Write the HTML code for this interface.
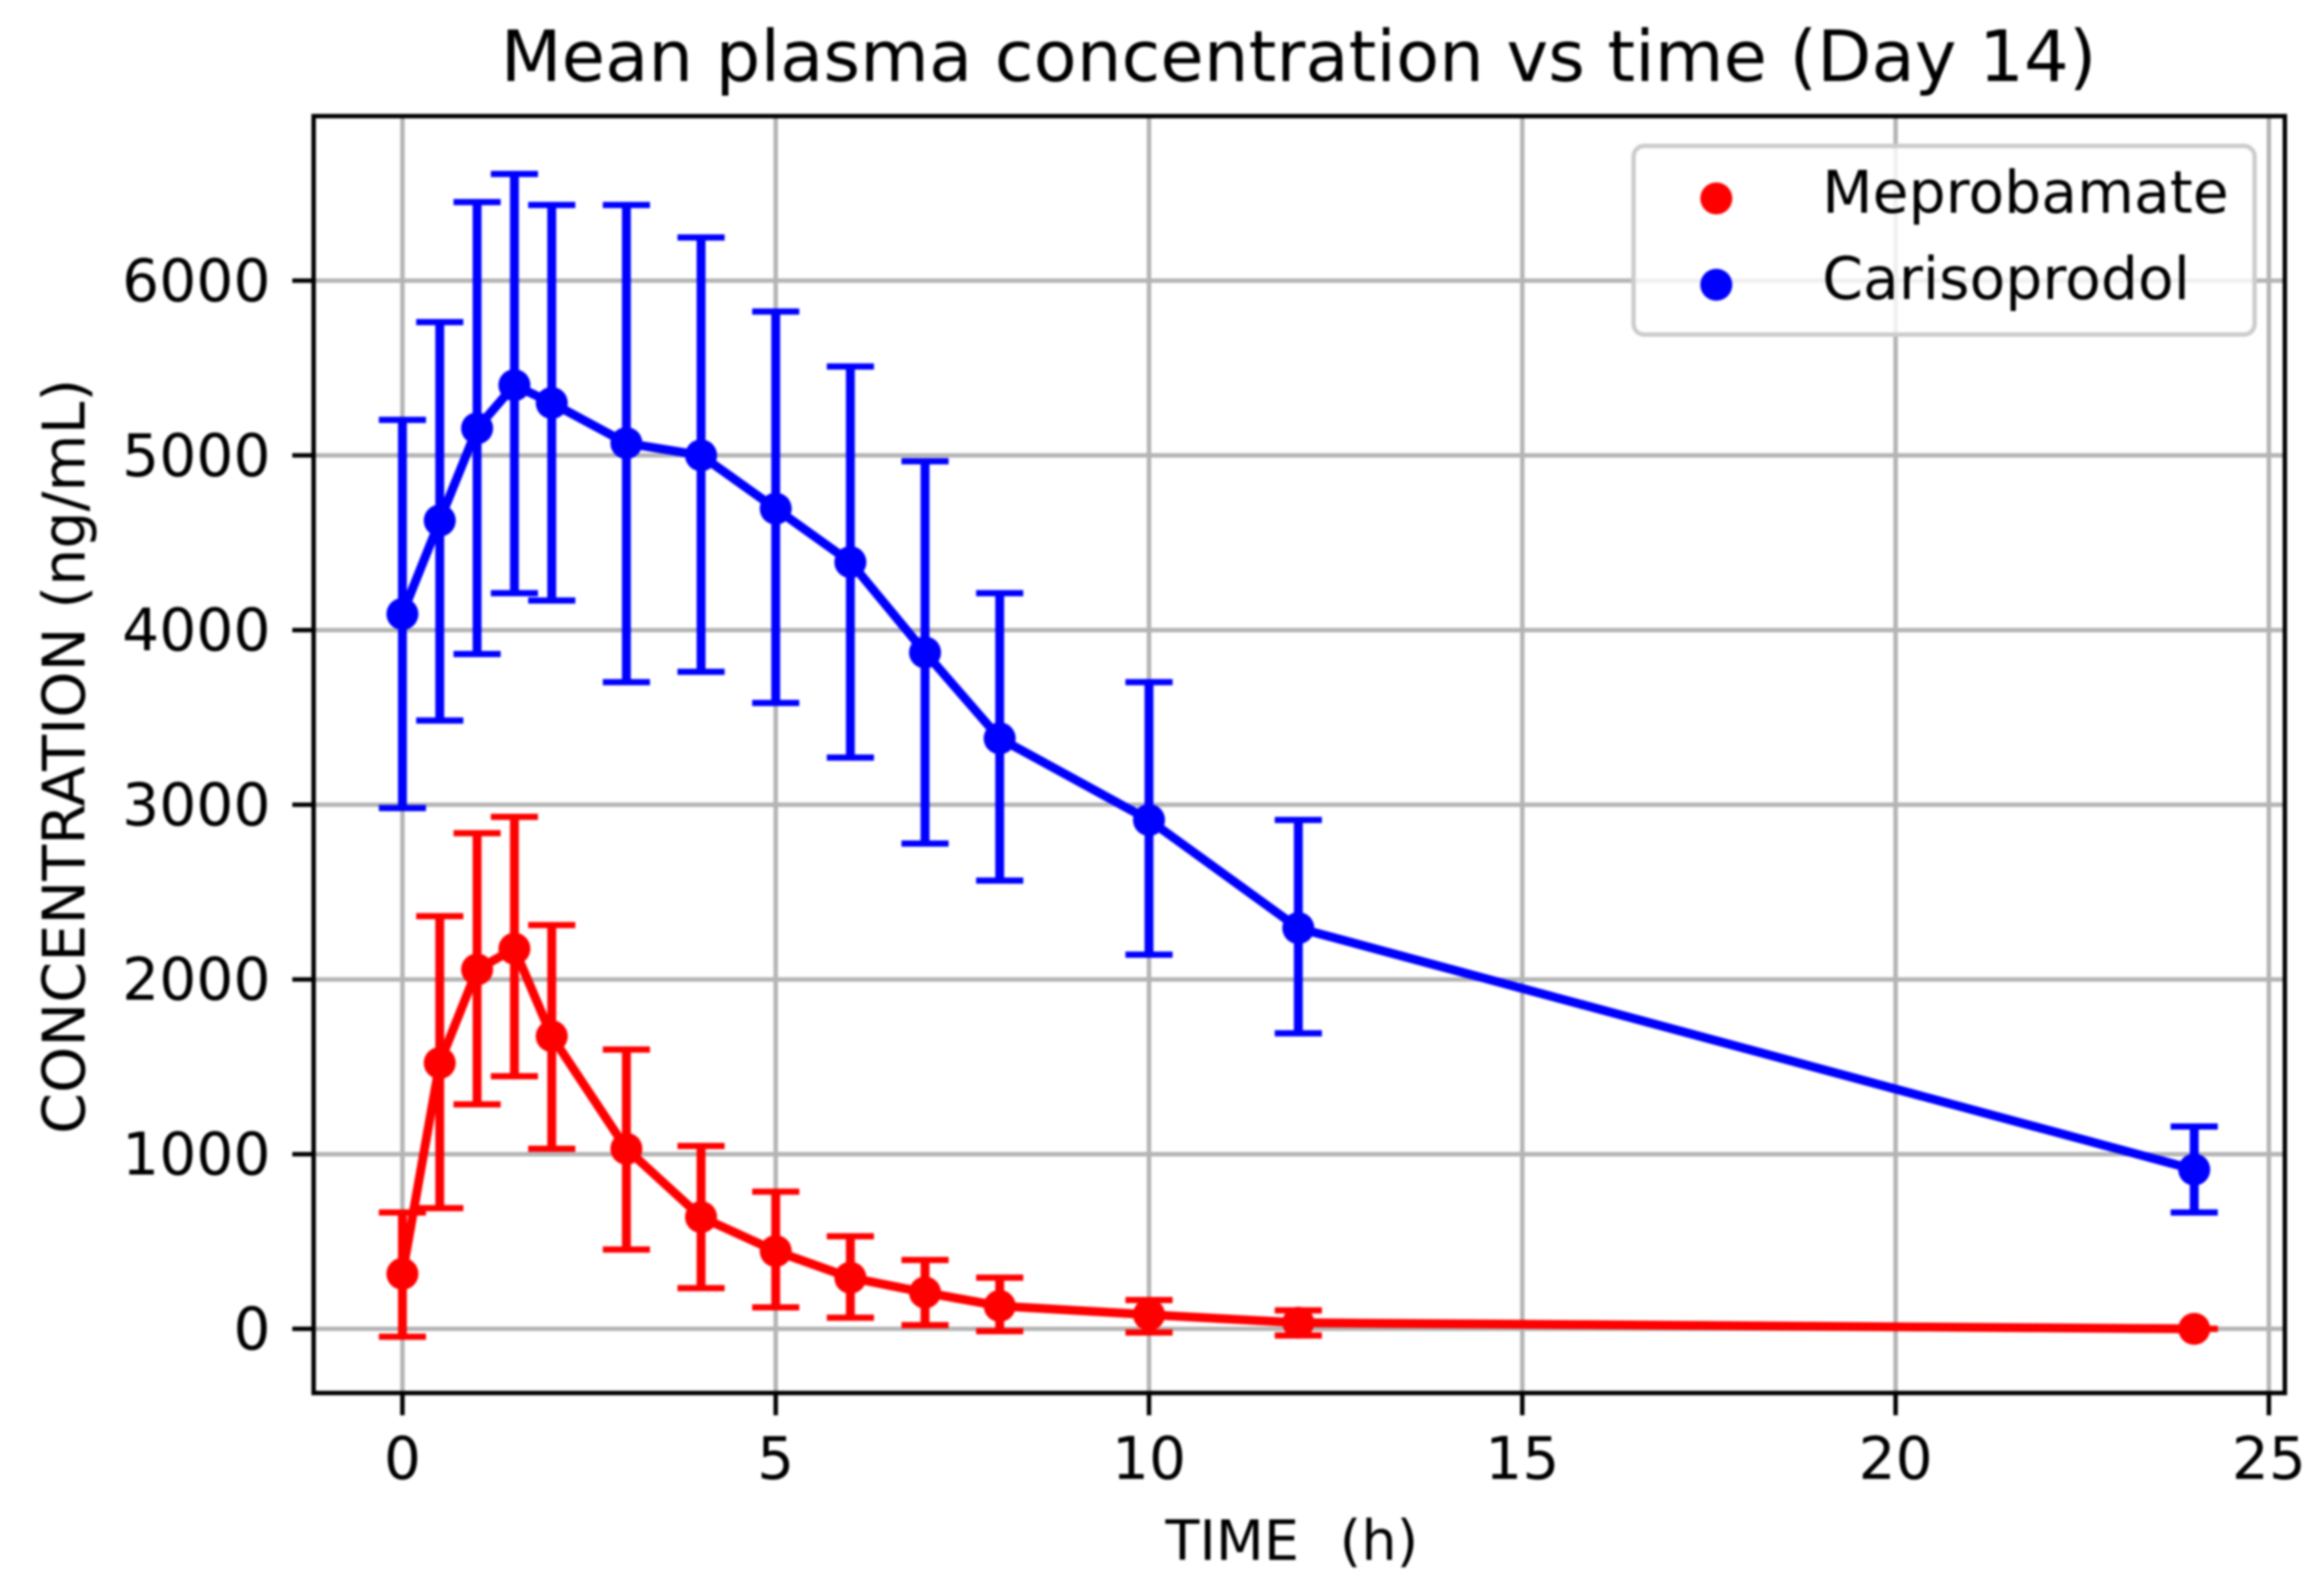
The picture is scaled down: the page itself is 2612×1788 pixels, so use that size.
<!DOCTYPE html>
<html lang="en">
<head>
<meta charset="utf-8">
<title>Mean plasma concentration vs time (Day 14)</title>
<style>
html,body{margin:0;padding:0;background:#fff;width:2612px;height:1788px;overflow:hidden}
svg{display:block;filter:blur(1.2px)}
text{font-family:"DejaVu Sans","Liberation Sans",sans-serif;fill:#000}
</style>
</head>
<body>
<svg id="chart" xmlns="http://www.w3.org/2000/svg" width="2612" height="1788" viewBox="0 0 2612 1788">
  <rect x="0" y="0" width="2612" height="1788" fill="#ffffff"/>
  <text x="1459.5" y="91" font-size="79.4" text-anchor="middle">Mean plasma concentration vs time (Day 14)</text>
  <text x="1452" y="1753" font-size="62.5" word-spacing="3" text-anchor="middle" xml:space="preserve">TIME  (h)</text>
  <text x="0" y="0" font-size="66" text-anchor="middle" transform="translate(95 850) rotate(-90)">CONCENTRATION (ng/mL)</text>
  <g id="grid"></g>
  <g id="ticks"></g>
  <g id="series"></g>
  <rect x="352.5" y="130.5" width="2215.5" height="1435" fill="none" stroke="#000" stroke-width="5"/>
  <g>
    <rect x="1836" y="164" width="698" height="212" rx="12" ry="12" fill="#ffffff" fill-opacity="0.8" stroke="#cccccc" stroke-width="5"/>
    <circle cx="1929" cy="223" r="18" fill="#ff0000"/>
    <text x="2048" y="239" font-size="65.7">Meprobamate</text>
    <circle cx="1929" cy="320" r="18" fill="#0000ff"/>
    <text x="2048" y="336" font-size="65.7">Carisoprodol</text>
  </g>
</svg>
<script>
const timeHours = [0, 0.5, 1, 1.5, 2, 3, 4, 5, 6, 7, 8, 10, 12, 24];
const xTickValues = [0, 5, 10, 15, 20, 25];
const yTickValues = [0, 1000, 2000, 3000, 4000, 5000, 6000];

const carisoprodolMean = [4092, 4627, 5155, 5402, 5300, 5070, 5000, 4695, 4389, 3872, 3380, 2913, 2294, 912];
const carisoprodolUpper = [5203, 5763, 6450, 6611, 6433, 6433, 6247, 5823, 5509, 4966, 4211, 3702, 2913, 1158];
const carisoprodolLower = [2981, 3482, 3863, 4211, 4169, 3702, 3761, 3583, 3270, 2778, 2566, 2142, 1692, 666];

const meprobamateMean = [315, 1522, 2057, 2176, 1675, 1031, 640, 445, 293, 208, 131, 81, 35, 0];
const meprobamateUpper = [666, 2362, 2837, 2931, 2311, 1599, 1047, 785, 530, 394, 293, 165, 106, 0];
const meprobamateLower = [-45, 691, 1285, 1446, 1031, 454, 233, 123, 64, 21, -13, -21, -38, 0];

const plotLeft = 352.5, plotRight = 2568, plotTop = 130.5, plotBottom = 1565.5;
function xScale(v) { return 452.3 + v * 83.91; }
function yScale(v) { return 1493.4 - v * 0.19633; }

const SVG_NS = 'http://www.w3.org/2000/svg';
function make(tag, attrs, parent) {
  const el = document.createElementNS(SVG_NS, tag);
  Object.keys(attrs).forEach(function (k) { el.setAttribute(k, attrs[k]); });
  parent.appendChild(el);
  return el;
}

const gridGroup = document.getElementById('grid');
const tickGroup = document.getElementById('ticks');
const seriesGroup = document.getElementById('series');

xTickValues.forEach(function (v) {
  const x = xScale(v);
  const gridLine = make('line', { x1: x, x2: x, y1: plotTop, y2: plotBottom, stroke: '#b4b4b4', 'stroke-width': 5 }, gridGroup);
  
  
  const tick = make('line', { x1: x, x2: x, y1: plotBottom, y2: plotBottom + 25, stroke: '#000', 'stroke-width': 5 }, tickGroup);
  
  
  const label = make('text', { x: x, y: 1662, 'font-size': 65.5, 'text-anchor': 'middle' }, tickGroup);
  
  
  label.textContent = String(v);
});

yTickValues.forEach(function (v) {
  const y = yScale(v);
  const gridLine = make('line', { x1: plotLeft, x2: plotRight, y1: y, y2: y, stroke: '#b4b4b4', 'stroke-width': 5 }, gridGroup);
  
  
  const tick = make('line', { x1: plotLeft - 24, x2: plotLeft, y1: y, y2: y, stroke: '#000', 'stroke-width': 5 }, tickGroup);
  
  
  const label = make('text', { x: 304, y: y + 23, 'font-size': 65.5, 'text-anchor': 'end' }, tickGroup);
  
  
  label.textContent = String(v);
});

function drawSeries(key, color, means, uppers, lowers) {
  const group = make('g', {}, seriesGroup);
  
  
  const capHalf = 26.5;
  timeHours.forEach(function (t, i) {
    const x = xScale(t);
    const top = yScale(uppers[i]);
    const bottom = yScale(lowers[i]);
    const bar = make('line', { x1: x, x2: x, y1: top, y2: bottom, stroke: color, 'stroke-width': 10 }, group);
    
    
    const capTop = make('line', { x1: x - capHalf, x2: x + capHalf, y1: top, y2: top, stroke: color, 'stroke-width': 7 }, group);
    
    
    const capBottom = make('line', { x1: x - capHalf, x2: x + capHalf, y1: bottom, y2: bottom, stroke: color, 'stroke-width': 7 }, group);
    
    
  });
  const points = timeHours.map(function (t, i) { return xScale(t) + ',' + yScale(means[i]); }).join(' ');
  const line = make('polyline', { points: points, fill: 'none', stroke: color, 'stroke-width': 10, 'stroke-linejoin': 'round' }, group);
  
  
  timeHours.forEach(function (t, i) {
    const dot = make('circle', { cx: xScale(t), cy: yScale(means[i]), r: 18, fill: color }, group);
    
    
  });
}

drawSeries('meprobamate', '#ff0000', meprobamateMean, meprobamateUpper, meprobamateLower);
drawSeries('carisoprodol', '#0000ff', carisoprodolMean, carisoprodolUpper, carisoprodolLower);
</script>
</body>
</html>
